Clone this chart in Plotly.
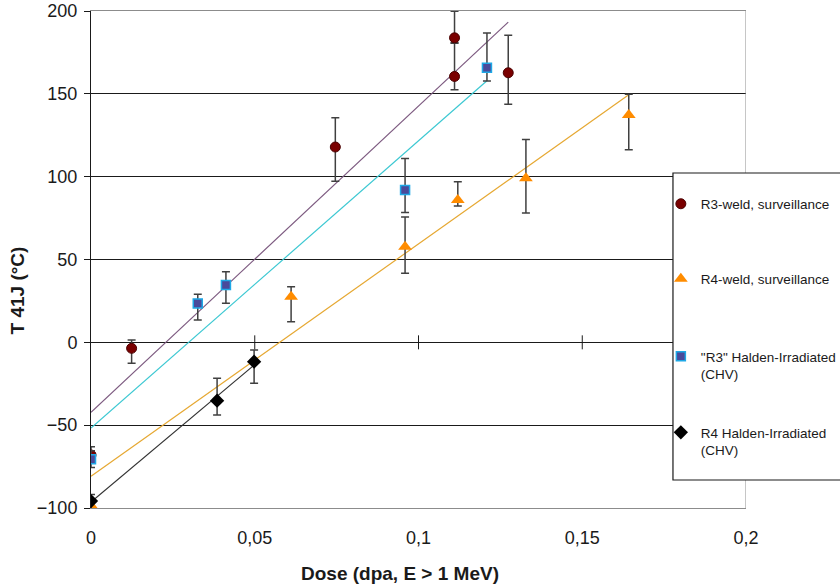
import numpy as np
import plotly.graph_objects as go

# ---- data ----
r3w_x = [0, 0.0124, 0.0746, 0.111, 0.111, 0.1274]
r3w_y = [-68, -3.6, 117.9, 183.8, 160.5, 162.7]
r3w_ep = [5, 5, 17.6, 16, 20, 22.6]
r3w_em = [5, 9, 20.6, 3, 8, 19]

r4w_x = [0, 0.0611, 0.0959, 0.112, 0.1328, 0.1642]
r4w_y = [-98.5, 27.5, 57.7, 85.9, 99, 137.2]
r4w_ep = [3, 6, 18, 11, 23.5, 12.5]
r4w_em = [3, 15, 16, 3.6, 21, 21]

r3h_x = [0, 0.0326, 0.0412, 0.0959, 0.1209]
r3h_y = [-70.5, 23.5, 34.6, 91.9, 165.7]
r3h_ep = [5, 5.5, 8, 19, 21]
r3h_em = [5, 10, 11, 13.5, 8]

r4h_x = [0, 0.0385, 0.0498]
r4h_y = [-95.8, -35.2, -11.7]
r4h_ep = [4, 13.5, 7]
r4h_em = [5, 8.7, 13]

names = ["R3-weld, surveillance", "R4-weld, surveillance",
         "\"R3\" Halden-Irradiated<br>(CHV)", "R4 Halden-Irradiated<br>(CHV)"]
x_ticks = [0, 0.05, 0.1, 0.15, 0.2]
y_ticks = [-100, -50, 0, 50, 100, 150, 200]

FONT = "Arial, 'Liberation Sans', sans-serif"

series = [
    dict(x=r3w_x, y=r3w_y, ep=r3w_ep, em=r3w_em, name=names[0],
         marker=dict(symbol="circle", size=10, color="#7a0000", line=dict(color="#4a0000", width=1)),
         line="#7d5a80", legend="legend", ly=0.6117),
    dict(x=r4w_x, y=r4w_y, ep=r4w_ep, em=r4w_em, name=names[1],
         marker=dict(symbol="triangle-up", size=12, color="#ff8c00", line=dict(width=0)),
         line="#e6a832", legend="legend2", ly=0.4608),
    dict(x=r3h_x, y=r3h_y, ep=r3h_ep, em=r3h_em, name=names[2],
         marker=dict(symbol="square", size=9, color="#4a4a9a", line=dict(color="#1ea8e6", width=1.5)),
         line="#3cc8d2", legend="legend3", ly=0.2867),
    dict(x=r4h_x, y=r4h_y, ep=r4h_ep, em=r4h_em, name=names[3],
         marker=dict(symbol="diamond", size=11, color="#000000", line=dict(width=0)),
         line="#333333", legend="legend4", ly=0.1338),
]

fig = go.Figure()

# linear trend lines (least squares fit of each series)
for s in series:
    k, b = np.polyfit(s["x"], s["y"], 1)
    xs = np.array([min(s["x"]), max(s["x"])])
    fig.add_trace(go.Scatter(x=xs, y=k * xs + b, mode="lines",
                             line=dict(color=s["line"], width=1.2),
                             showlegend=False, hoverinfo="skip"))

for s in series:
    fig.add_trace(go.Scatter(
        x=s["x"], y=s["y"], mode="markers", name=s["name"], marker=s["marker"],
        error_y=dict(type="data", symmetric=False, array=s["ep"], arrayminus=s["em"],
                     color="#404040", thickness=1.5, width=4),
        legend=s["legend"]))

leg_x = 0.870
legend_common = dict(x=leg_x, xanchor="left", yanchor="middle", bgcolor="rgba(0,0,0,0)",
                     borderwidth=0, valign="top",
                     font=dict(family=FONT, size=13.5, color="#1a1a1a"))
layout_legends = {}
for i, s in enumerate(series):
    key = s["legend"]
    layout_legends[key] = dict(legend_common, y=s["ly"])

shapes = []
# right border of plot area
shapes.append(dict(type="line", xref="x", yref="y domain", x0=x_ticks[-1], x1=x_ticks[-1],
                   y0=0, y1=1, line=dict(color="#8c8c8c", width=1), layer="above"))
# cross tick marks on the zero line
for v in x_ticks[1:-1]:
    shapes.append(dict(type="line", xref="x", yref="y", x0=v, x1=v, ysizemode="pixel",
                       yanchor=0, y0=-7, y1=7, line=dict(color="#1a1a1a", width=1), layer="above"))
# legend frame
shapes.append(dict(type="rect", xref="paper", yref="paper", x0=0.8885, x1=1.3, y0=0.0563, y1=0.674,
                   line=dict(color="#1a1a1a", width=1.2), fillcolor="white", layer="above"))

fig.update_layout(
    width=840, height=587,
    margin=dict(l=91, r=94, t=11, b=79, autoexpand=False),
    paper_bgcolor="white", plot_bgcolor="white",
    separators=", ",
    font=dict(family=FONT, color="#1a1a1a"),
    showlegend=True,
    shapes=shapes,
    xaxis=dict(range=[x_ticks[0], x_ticks[-1]], tickvals=x_ticks, showgrid=False, zeroline=False,
               showline=True, mirror=True, linecolor="#8c8c8c", linewidth=1,
               ticks="outside", ticklen=13, tickcolor="rgba(0,0,0,0)", automargin=False,
               tickfont=dict(family=FONT, size=18, color="#1a1a1a")),
    yaxis=dict(range=[y_ticks[0], y_ticks[-1]], tickvals=y_ticks, showgrid=True,
               gridcolor="#1a1a1a", gridwidth=1, zeroline=True, zerolinecolor="#1a1a1a",
               zerolinewidth=1, showline=True, linecolor="#1a1a1a", linewidth=1,
               ticks="outside", ticklen=6, tickcolor="#1a1a1a", automargin=False,
               ticklabelstandoff=3, ticklabeloverflow="allow",
               tickfont=dict(family=FONT, size=18, color="#1a1a1a")),
    annotations=[
        dict(text="<b>T 41J (°C)</b>", xref="paper", yref="paper", x=-0.1123, y=0.4386,
             textangle=-90, showarrow=False, xanchor="center", yanchor="middle",
             font=dict(family=FONT, size=19, color="#1a1a1a")),
        dict(text="<b>Dose (dpa, E > 1 MeV)</b>", xref="paper", yref="paper", x=0.472, y=-0.1308,
             showarrow=False, xanchor="center", yanchor="middle",
             font=dict(family=FONT, size=19, color="#1a1a1a")),
    ],
    **layout_legends,
)

fig.write_html("out.html", config={"displayModeBar": False},
               post_script="document.body.style.margin='0';")
